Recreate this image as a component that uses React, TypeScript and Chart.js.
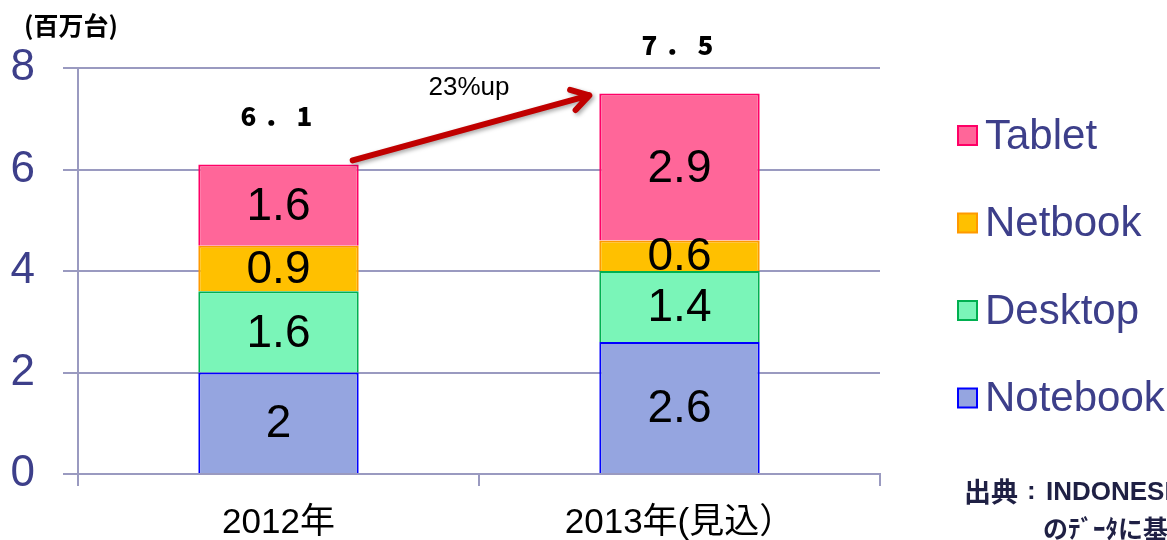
import React, { useEffect, useRef } from "react";
import { Chart, registerables } from "chart.js";

Chart.register(...registerables);

const categories = ["2012年", "2013年(見込）"];
const notebook = [2, 2.6];
const desktop = [1.6, 1.4];
const netbook = [0.9, 0.6];
const tablet = [1.6, 2.9];
const totals = [6.1, 7.5];
const yTicks = [0, 2, 4, 6, 8];
const growthLabel = "23%up";
const unitLabel = "(百万台)";
const sourceHead = "出典";
const sourceOrg = "INDONESIA";
const sourceLine2 = "のﾃﾞｰﾀに基づく";

const seriesNames = ["Notebook", "Desktop", "Netbook", "Tablet"];
const seriesData = [notebook, desktop, netbook, tablet];
const fills = ["#95A5E0", "#7AF5B8", "#FFC000", "#FF6699"];
const borders = ["#0000FF", "#00B050", "#FF9900", "#FF0066"];

const AXIS = "#9A9AC0";
const TEXT_BLUE = "#3D3F8A";
const SANS = "'Liberation Sans', Arial, 'Noto Sans CJK JP', sans-serif";
const CJK = "'Noto Sans CJK JP', sans-serif";

const overlay = {
  id: "overlay",
  afterDatasetsDraw(chart: any) {
    const ctx = chart.ctx;
    ctx.save();
    // segment labels
    ctx.fillStyle = "#000";
    ctx.font = `46px ${SANS}`;
    ctx.textAlign = "center";
    ctx.textBaseline = "middle";
    chart.data.datasets.forEach((ds: any, di: number) => {
      const meta = chart.getDatasetMeta(di);
      meta.data.forEach((el: any, i: number) => {
        const y = (el.y + el.base) / 2;
        ctx.fillText(String(ds.data[i]), el.x, y + 2);
      });
    });
    // totals
    const topMeta = chart.getDatasetMeta(3);
    ctx.font = `900 26px ${CJK}`;
    totals.forEach((t, i) => {
      const el = topMeta.data[i];
      const chars = String(t).split("").map((c) => (c === "." ? "．" : c));
      chars.forEach((c, k) => {
        ctx.fillText(c, el.x - 2 + (k - 1) * 28, el.y - 48);
      });
    });
    // arrow
    const a = topMeta.data[0];
    const b = topMeta.data[1];
    const x1 = a.x + a.width / 2 - 6;
    const y1 = a.y - 4;
    const x2 = b.x - b.width / 2 - 10;
    const y2 = b.y + 2;
    ctx.save();
    ctx.shadowColor = "rgba(0,0,0,0.35)";
    ctx.shadowBlur = 4;
    ctx.shadowOffsetX = 2;
    ctx.shadowOffsetY = 2;
    ctx.strokeStyle = "#C00000";
    ctx.lineWidth = 6;
    ctx.lineCap = "round";
    ctx.lineJoin = "round";
    ctx.beginPath();
    ctx.moveTo(x1, y1);
    ctx.lineTo(x2, y2);
    const ang = Math.atan2(y2 - y1, x2 - x1);
    const hl = 20;
    ctx.moveTo(x2 - hl * Math.cos(ang - 0.55), y2 - hl * Math.sin(ang - 0.55));
    ctx.lineTo(x2, y2);
    ctx.lineTo(x2 - hl * Math.cos(ang + 0.55), y2 - hl * Math.sin(ang + 0.55));
    ctx.stroke();
    ctx.restore();
    // growth label
    ctx.fillStyle = "#000";
    ctx.font = `26px ${SANS}`;
    ctx.textAlign = "center";
    ctx.fillText(growthLabel, 469, 88);
    // unit
    ctx.font = `bold 25px ${CJK}`;
    ctx.textAlign = "left";
    ctx.fillText(unitLabel, 24, 25);
    // legend
    const order = [3, 2, 1, 0];
    ctx.font = `42px ${SANS}`;
    order.forEach((di, k) => {
      const cy = 135 + k * 87.5;
      ctx.fillStyle = fills[di];
      ctx.strokeStyle = borders[di];
      ctx.lineWidth = 2;
      ctx.fillRect(958, cy - 9, 19, 19);
      ctx.strokeRect(958, cy - 9, 19, 19);
      ctx.fillStyle = TEXT_BLUE;
      ctx.textAlign = "left";
      ctx.textBaseline = "middle";
      ctx.fillText(seriesNames[di], 985, cy + 2);
    });
    // source
    ctx.fillStyle = "#1F2044";
    ctx.textBaseline = "middle";
    ctx.font = `bold 27px ${CJK}`;
    ctx.fillText(sourceHead, 964, 492);
    ctx.font = `bold 26px ${SANS}`;
    ctx.fillText(":", 1027, 492);
    ctx.fillText(sourceOrg, 1046, 493);
    ctx.font = `bold 25px ${CJK}`;
    ctx.fillText(sourceLine2, 1043, 528);
    ctx.restore();
  },
};

export default function App() {
  const ref = useRef<HTMLCanvasElement>(null);
  useEffect(() => {
    document.body.style.margin = "0";
    const chart = new Chart(ref.current as HTMLCanvasElement, {
      type: "bar",
      data: {
        labels: categories,
        datasets: seriesData.map((d, i) => ({
          label: seriesNames[i],
          data: d,
          backgroundColor: fills[i],
          borderColor: borders[i],
          borderWidth: 2,
          categoryPercentage: 1,
          barPercentage: 0.4,
        })),
      },
      options: {
        responsive: false,
        animation: false,
        layout: { padding: { left: 0, top: 68, right: 287, bottom: 0 } },
        plugins: { legend: { display: false }, tooltip: { enabled: false } },
        scales: {
          x: {
            stacked: true,
            grid: { drawOnChartArea: false, drawTicks: true, tickLength: 12, color: AXIS, lineWidth: 2, offset: true },
            border: { color: AXIS, width: 2 },
            ticks: { color: "#000", font: { size: 35, family: SANS }, padding: 16 },
            afterFit: (s: any) => { s.height = 66; },
          },
          y: {
            stacked: true,
            min: 0,
            max: 8,
            afterBuildTicks: (s: any) => { s.ticks = yTicks.map((v) => ({ value: v })); },
            grid: { color: AXIS, lineWidth: 2, tickLength: 15 },
            border: { color: AXIS, width: 2 },
            ticks: { color: TEXT_BLUE, font: { size: 44, family: SANS }, padding: 28 },
            afterFit: (s: any) => { s.width = 78; },
          },
        },
      },
      plugins: [overlay],
    });
    return () => chart.destroy();
  }, []);
  return (
    <div style={{ position: "absolute", left: 0, top: 0, width: 1167, height: 540, background: "#fff" }}>
      <canvas ref={ref} width={1167} height={540} style={{ width: 1167, height: 540 }} />
    </div>
  );
}
